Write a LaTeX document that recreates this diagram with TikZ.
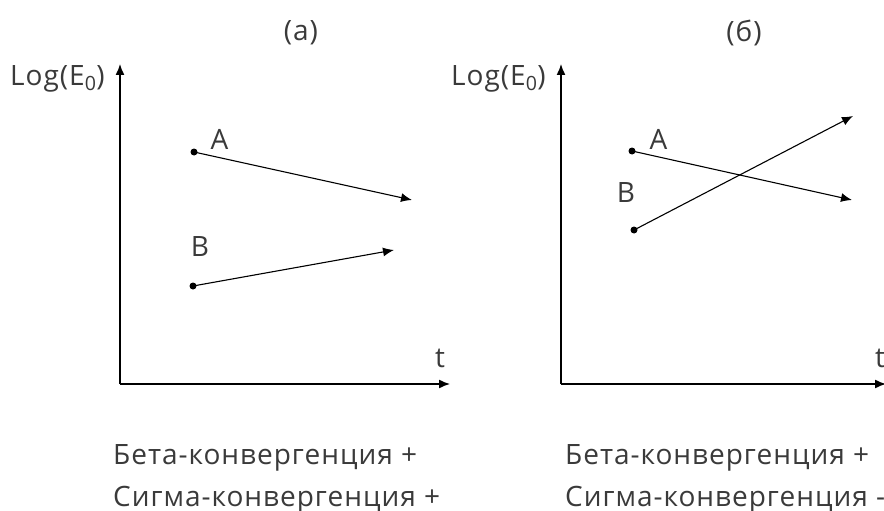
\documentclass[tikz,border=0pt]{standalone}
\usepackage{fontspec}
\setmainfont{Open Sans}[LetterSpace=3.5]
\usetikzlibrary{arrows.meta}
\definecolor{txt}{HTML}{3A3A3A}
\begin{document}
\begin{tikzpicture}[x=1pt,y=-1pt,
  lbl/.style={text=txt,font=\fontsize{28}{32}\selectfont,inner sep=0pt},
  axis/.style={line width=1.4pt,-{Latex[length=11pt,width=9pt]}},
  vec/.style={line width=1.1pt,-{Latex[length=11pt,width=9pt]}},
  dot/.style={circle,fill=black,inner sep=0pt,minimum size=7pt}]
\useasboundingbox (0,0) rectangle (884,511);
% ---- panel (a)
\node[lbl] (ta) at (301,33) {(a)};
\coordinate (oa) at (120,384);
\coordinate (ya) at (120,64);
\coordinate (xa) at (450,384);
\draw[axis] (oa) -- (ya);
\draw[axis] (oa) -- (xa);
\node[lbl,anchor=base west] (la) at (10,85) {Log(E\textsubscript{0})};
\node[lbl,anchor=base] (tta) at (440,367) {t};
\node[dot] (pa) at (194,152) {};
\coordinate (ea) at (412,200);
\draw[vec] (pa.center) -- (ea);
\node[lbl,anchor=base] (aa) at (219.5,149) {A};
\node[dot] (pb) at (193,286) {};
\coordinate (eb) at (394,250);
\draw[vec] (pb.center) -- (eb);
\node[lbl,anchor=base] (bb) at (200,256) {B};
\node[lbl,anchor=base west] (sa1) at (113,464) {Бета-конвергенция +};
\node[lbl,anchor=base west] (sa2) at (113,506) {Сигма-конвергенция +};
% ---- panel (b)
\node[lbl] (tb) at (744,33) {(б)};
\coordinate (ob) at (561,384);
\coordinate (yb) at (561,64);
\coordinate (xb) at (886,384);
\draw[axis] (ob) -- (yb);
\draw[axis] (ob) -- (xb);
\node[lbl,anchor=base west] (lb) at (451,85) {Log(E\textsubscript{0})};
\node[lbl,anchor=base] (ttb) at (880,367) {t};
\node[dot] (qa) at (632,151) {};
\coordinate (fa) at (852,200);
\draw[vec] (qa.center) -- (fa);
\node[lbl,anchor=base] (ab) at (658.5,149) {A};
\node[dot] (qb) at (634,230) {};
\coordinate (fb) at (853,116);
\draw[vec] (qb.center) -- (fb);
\node[lbl,anchor=base] (bq) at (626,202) {B};
\node[lbl,anchor=base west] (sb1) at (565,464) {Бета-конвергенция +};
\node[lbl,anchor=base west] (sb2) at (565,506) {Сигма-конвергенция -};
\end{tikzpicture}
\end{document}
